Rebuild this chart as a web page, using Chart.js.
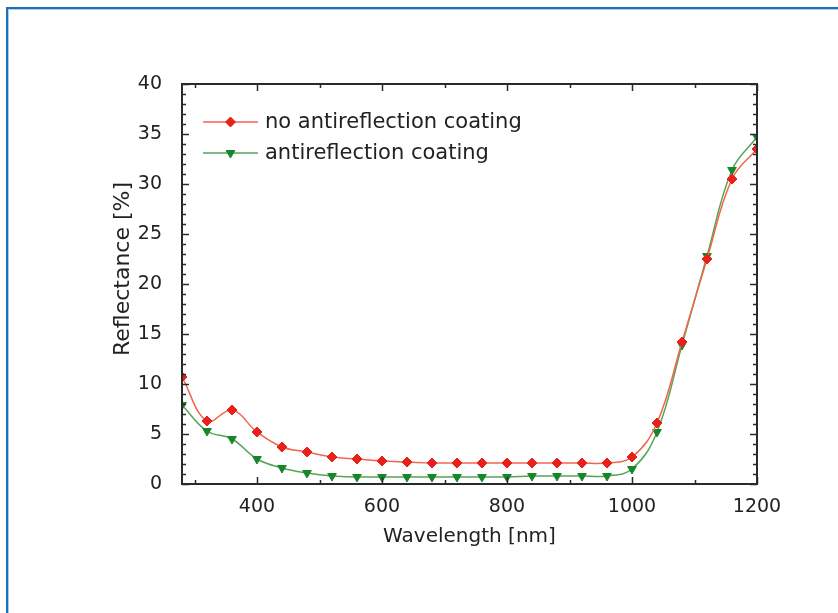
<!DOCTYPE html>
<html>
<head>
<meta charset="utf-8">
<script src="https://cdn.jsdelivr.net/npm/chart.js@4.4.1/dist/chart.umd.min.js"></script>
<style>
  html, body { margin: 0; padding: 0; background: #fff; }
  #wrap { position: relative; width: 838px; height: 613px; overflow: hidden; }
  #frame { position: absolute; left: 6px; top: 7px; right: -10px; bottom: -10px;
           border-top: 2px solid #1c6fba; border-left: 2px solid #1c6fba; }
  #frame2 { position: absolute; left: 8px; top: 9px; right: -10px; bottom: -10px;
           border-top: 1px solid #a9cdec; border-left: 1px solid #a9cdec; }
  canvas { position: absolute; left: 0; top: 0; }
</style>
</head>
<body>
<div id="wrap">
  <div id="frame"></div>
  <div id="frame2"></div>
  <canvas id="c" width="838" height="613"></canvas>
</div>
<script>
const wavelengths = [280, 320, 360, 400, 440, 480, 520, 560, 600, 640, 680, 720, 760, 800, 840, 880, 920, 960, 1000, 1040, 1080, 1120, 1160, 1200];
const noCoating   = [10.7, 6.3, 7.4, 5.2, 3.7, 3.2, 2.7, 2.5, 2.3, 2.2, 2.1, 2.1, 2.1, 2.1, 2.1, 2.1, 2.1, 2.1, 2.7, 6.1, 14.2, 22.5, 30.5, 33.5];
const withCoating = [7.9, 5.3, 4.5, 2.5, 1.6, 1.1, 0.8, 0.7, 0.7, 0.7, 0.7, 0.7, 0.7, 0.7, 0.8, 0.8, 0.8, 0.8, 1.5, 5.2, 13.9, 22.8, 31.4, 34.7];
const xTickLabels = [400, 600, 800, 1000, 1200];
const xMinorTicks = [300, 500, 700, 900, 1100];
const yTickLabels = [0, 5, 10, 15, 20, 25, 30, 35, 40];
const seriesNames = ['no antireflection coating', 'antireflection coating'];
const xTitle = 'Wavelength [nm]';
const yTitle = 'Reflectance [%]';

const FONT = '"DejaVu Sans", Verdana, sans-serif';
const TXT = '#222';

const toPts = (ys) => wavelengths.map((x, i) => ({ x: x, y: ys[i] }));

const framePlugin = {
  id: 'frameTicks',
  afterDatasetsDraw(chart) {
    const { ctx, chartArea: a, scales } = chart;
    const xs = scales.x, ys = scales.y;
    ctx.save();
    ctx.strokeStyle = '#2a2a2a';
    ctx.lineWidth = 2;
    ctx.strokeRect(a.left, a.top, a.right - a.left, a.bottom - a.top);
    ctx.lineWidth = 1.5;
    ctx.beginPath();
    const xt = (v, len) => {
      const p = Math.round(xs.getPixelForValue(v)) + 0.5;
      ctx.moveTo(p, a.bottom); ctx.lineTo(p, a.bottom - len);
      ctx.moveTo(p, a.top); ctx.lineTo(p, a.top + len);
    };
    xTickLabels.forEach(v => xt(v, 7));
    xMinorTicks.forEach(v => xt(v, 4));
    for (let v = 0; v <= 40; v += 1) {
      const p = Math.round(ys.getPixelForValue(v)) + 0.5;
      const len = v % 5 === 0 ? 7 : 4;
      ctx.moveTo(a.left, p); ctx.lineTo(a.left + len, p);
      ctx.moveTo(a.right, p); ctx.lineTo(a.right - len, p);
    }
    ctx.stroke();

    // y-axis title
    ctx.save();
    ctx.translate(123, ys.getPixelForValue(21.5));
    ctx.rotate(-Math.PI / 2);
    ctx.fillStyle = TXT;
    ctx.font = '22px ' + FONT;
    ctx.textAlign = 'center';
    ctx.textBaseline = 'middle';
    ctx.fillText(yTitle, 0, 0);
    ctx.restore();

    // legend inside the plot
    chart.data.datasets.forEach((ds, i) => {
      const y = a.top + 38 + i * 31;
      const x0 = a.left + 21, x1 = a.left + 76;
      ctx.strokeStyle = ds.borderColor;
      ctx.lineWidth = ds.borderWidth;
      ctx.beginPath(); ctx.moveTo(x0, y); ctx.lineTo(x1, y); ctx.stroke();
      ctx.fillStyle = ds.pointBackgroundColor;
      ctx.strokeStyle = ds.pointBorderColor;
      ctx.lineWidth = 1;
      Chart.helpers.drawPoint(ctx, {
        pointStyle: ds.pointStyle, rotation: ds.pointRotation || 0,
        radius: ds.pointRadius, borderWidth: 1
      }, (x0 + x1) / 2, y);
      ctx.fillStyle = TXT;
      ctx.font = '21px ' + FONT;
      ctx.textBaseline = 'middle';
      ctx.textAlign = 'left';
      ctx.fillText(ds.label, a.left + 83, y + 1);
    });
    ctx.restore();
  }
};

new Chart(document.getElementById('c'), {
  type: 'line',
  data: {
    datasets: [
      {
        label: seriesNames[0],
        data: toPts(noCoating),
        borderColor: '#f2654c',
        borderWidth: 1.5,
        pointStyle: 'rectRot',
        pointRadius: 5,
        pointBackgroundColor: '#e8221b',
        pointBorderColor: '#e8221b',
        pointBorderWidth: 1,
        tension: 0.4,
        fill: false
      },
      {
        label: seriesNames[1],
        data: toPts(withCoating),
        borderColor: '#55a556',
        borderWidth: 1.5,
        pointStyle: 'triangle',
        pointRotation: 180,
        pointRadius: 5,
        pointBackgroundColor: '#17862a',
        pointBorderColor: '#17862a',
        pointBorderWidth: 1,
        tension: 0.4,
        fill: false
      }
    ]
  },
  options: {
    responsive: false,
    animation: false,
    devicePixelRatio: 1,
    layout: { padding: { left: 0, top: 84, right: 81, bottom: 0 } },
    plugins: { legend: { display: false }, tooltip: { enabled: false } },
    scales: {
      x: {
        type: 'linear',
        min: 280, max: 1200,
        afterBuildTicks: (s) => { s.ticks = xTickLabels.map(v => ({ value: v })); },
        afterFit: (s) => { s.height = 129; },
        grid: { display: false },
        border: { display: false },
        ticks: { color: TXT, font: { family: FONT, size: 19 }, padding: 4, maxRotation: 0, autoSkip: false,
                 callback: (v) => String(v) },
        title: { display: true, text: xTitle, color: TXT, font: { family: FONT, size: 20 }, padding: { top: 0, bottom: 64 } }
      },
      y: {
        min: 0, max: 40,
        afterBuildTicks: (s) => { s.ticks = yTickLabels.map(v => ({ value: v })); },
        afterFit: (s) => { s.width = 182; },
        grid: { display: false },
        border: { display: false },
        ticks: { color: TXT, font: { family: FONT, size: 19 }, padding: 12, callback: (v) => String(v) },
        title: { display: false }
      }
    }
  },
  plugins: [framePlugin]
});
</script>
</body>
</html>
